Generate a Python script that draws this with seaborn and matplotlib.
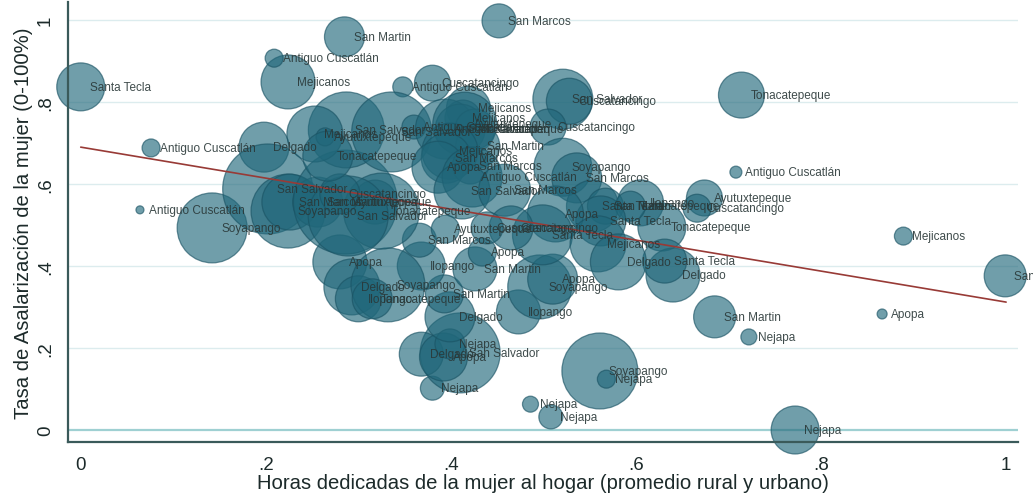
import matplotlib
matplotlib.use("Agg")
import matplotlib.pyplot as plt
import seaborn as sns
import pandas as pd

# === Datos ===
municipios = [
    "Santa Tecla", "Antiguo Cuscatlán", "Antiguo Cuscatlán", "Soyapango", "Delgado",
    "Mejicanos", "Antiguo Cuscatlán", "San Martin", "San Marcos", "Cuscatancingo",
    "Antiguo Cuscatlán", "San Salvador", "Cuscatancingo", "Cuscatancingo", "Tonacatepeque",
    "Antiguo Cuscatlán", "Ayutuxtepeque", "Cuscatancingo", "Ilopango", "Tonacatepeque",
    "Delgado", "Santa Tecla", "Mejicanos", "San Marcos", "Apopa",
    "San Martin", "Nejapa", "Nejapa", "Soyapango", "Nejapa",
    "Nejapa", "Nejapa", "Nejapa", "San Salvador", "Delgado",
    "Apopa", "Nejapa", "Delgado", "San Martin", "Ilopango",
    "San Marcos", "Ilopango", "San Martin", "Apopa", "Soyapango",
    "Apopa", "Apopa", "Delgado", "Ilopango", "Soyapango",
    "Tonacatepeque", "San Salvador", "Soyapango", "San Marcos", "San Martin",
    "Ayutuxtepeque", "Apopa", "Tonacatepeque", "San Salvador", "Cuscatancingo",
    "San Salvador", "Mejicanos", "Ayutuxtepeque", "Tonacatepeque", "San Salvador",
    "Antiguo Cuscatlán", "Mejicanos", "Mejicanos", "Antiguo Cuscatlán", "San Salvador",
    "Tonacatepeque", "Ayutuxtepeque", "San Martin", "Mejicanos", "San Marcos",
    "Apopa", "San Marcos", "Antiguo Cuscatlán", "San Salvador", "San Marcos",
    "Soyapango", "San Marcos", "Santa Tecla", "San Martin", "Tonacatepeque",
    "Santa Tecla", "Apopa", "Santa Tecla", "Mejicanos", "Delgado",
    "Cuscatancingo", "Cuscatancingo", "Ayutuxtepeque",
]

horas_hogar = [
    0.000, 0.076, 0.064, 0.142, 0.198,
    0.224, 0.209, 0.285, 0.452, 0.380,
    0.348, 0.521, 0.528, 0.505, 0.714,
    0.708, 0.674, 0.666, 0.605, 0.628,
    0.640, 0.631, 0.889, 0.999, 0.866,
    0.685, 0.722, 0.772, 0.561, 0.568,
    0.486, 0.508, 0.380, 0.410, 0.368,
    0.392, 0.399, 0.399, 0.393, 0.368,
    0.366, 0.473, 0.426, 0.434, 0.496,
    0.510, 0.280, 0.293, 0.300, 0.332,
    0.315, 0.202, 0.224, 0.226, 0.256,
    0.286, 0.318, 0.325, 0.289, 0.280,
    0.287, 0.253, 0.264, 0.267, 0.336,
    0.360, 0.419, 0.413, 0.394, 0.410,
    0.426, 0.415, 0.429, 0.399, 0.395,
    0.386, 0.421, 0.423, 0.412, 0.458,
    0.521, 0.536, 0.553, 0.567, 0.594,
    0.562, 0.513, 0.499, 0.559, 0.581,
    0.465, 0.439, 0.394,
]

tasa_asalarizacion = [
    0.837, 0.688, 0.537, 0.493, 0.690,
    0.849, 0.907, 0.959, 0.998, 0.846,
    0.837, 0.807, 0.802, 0.739, 0.817,
    0.629, 0.566, 0.541, 0.554, 0.495,
    0.378, 0.412, 0.473, 0.376, 0.283,
    0.276, 0.227, 0.000, 0.144, 0.124,
    0.063, 0.032, 0.102, 0.188, 0.185,
    0.178, 0.210, 0.276, 0.332, 0.400,
    0.463, 0.288, 0.393, 0.434, 0.349,
    0.368, 0.410, 0.349, 0.320, 0.354,
    0.320, 0.588, 0.534, 0.556, 0.556,
    0.556, 0.556, 0.534, 0.522, 0.576,
    0.732, 0.722, 0.715, 0.668, 0.727,
    0.739, 0.785, 0.761, 0.734, 0.734,
    0.734, 0.746, 0.693, 0.680, 0.663,
    0.641, 0.644, 0.617, 0.583, 0.585,
    0.641, 0.615, 0.546, 0.546, 0.546,
    0.510, 0.527, 0.476, 0.454, 0.410,
    0.493, 0.493, 0.490,
]

# peso de cada burbuja (área proporcional)
peso = [
    576, 81, 16, 1225, 625,
    729, 81, 400, 289, 324,
    100, 900, 529, 324, 529,
    36, 324, 196, 529, 576,
    729, 484, 81, 441, 25,
    441, 64, 576, 1444, 81,
    64, 144, 144, 1600, 484,
    576, 225, 625, 361, 576,
    289, 484, 484, 196, 1024,
    625, 729, 784, 529, 1369,
    400, 2025, 1369, 784, 625,
    2704, 484, 1444, 1600, 400,
    1444, 784, 81, 625, 1600,
    144, 484, 324, 900, 625,
    400, 1024, 484, 784, 625,
    676, 324, 900, 784, 676,
    841, 625, 676, 324, 225,
    625, 784, 900, 784, 784,
    484, 256, 196,
]

# recta de ajuste lineal (extremos)
ajuste_x = [0.0, 1.0]
ajuste_y = [0.690, 0.312]

ticks_x = [0, 0.2, 0.4, 0.6, 0.8, 1.0]
etiquetas_x = ["0", ".2", ".4", ".6", ".8", "1"]
ticks_y = [0, 0.2, 0.4, 0.6, 0.8, 1.0]
etiquetas_y = ["0", ".2", ".4", ".6", ".8", "1"]

df = pd.DataFrame({
    "municipio": municipios,
    "horas": horas_hogar,
    "tasa": tasa_asalarizacion,
    "peso": peso,
})

# === Figura ===
sns.set_style("white")
plt.rcParams["font.family"] = ["Liberation Sans", "DejaVu Sans"]

fig = plt.figure(figsize=(10.33, 5.02), dpi=100)
ax = fig.add_axes([0.0658, 0.1175, 0.920, 0.8765])

# líneas de cuadrícula
for yv in ticks_y[1:]:
    ax.axhline(yv, color="#dcecee", lw=1.0, zorder=0)
ax.axhline(0, color="#9fd0d2", lw=1.6, zorder=0)

k = 2.07
sns.scatterplot(
    data=df, x="horas", y="tasa", size="peso",
    sizes=(k * min(peso), k * max(peso)), size_norm=(min(peso), max(peso)),
    color="#20677a", alpha=0.64, edgecolor="#1a5364", linewidth=0.9,
    legend=False, ax=ax, zorder=2,
)
for coll in ax.collections:
    coll.set_clip_on(False)

sns.lineplot(x=ajuste_x, y=ajuste_y, color="#983a36", lw=1.2, ax=ax, zorder=3)

for nombre, xv, yv in zip(municipios, horas_hogar, tasa_asalarizacion):
    ax.annotate(nombre, (xv, yv), xytext=(6.5, 0), textcoords="offset points",
                ha="left", va="center", fontsize=8.5, color="#2a3838",
                alpha=0.9, zorder=4, annotation_clip=False)

ax.set_xlim(-0.0138, 1.0132)
ax.set_ylim(-0.0293, 1.044)
ax.set_xticks(ticks_x)
ax.set_xticklabels(etiquetas_x)
ax.set_yticks(ticks_y)
ax.set_yticklabels(etiquetas_y, rotation=90, va="center")

for s in ["top", "right"]:
    ax.spines[s].set_visible(False)
for s in ["left", "bottom"]:
    ax.spines[s].set_color("#3a5a5a")
    ax.spines[s].set_linewidth(1.6)
ax.tick_params(axis="both", direction="out", length=6, width=1.4,
               color="#3a5a5a", labelsize=13.5, labelcolor="#1c2a2a", pad=4)

ax.set_xlabel("Horas dedicadas de la mujer al hogar (promedio rural y urbano)",
              fontsize=14.6, color="#1c2a2a", labelpad=0)
ax.set_ylabel("Tasa de Asalarización de la mujer (0-100%)",
              fontsize=14.6, color="#1c2a2a", labelpad=3)

fig.savefig("out.png", dpi=100)
plt.close(fig)
